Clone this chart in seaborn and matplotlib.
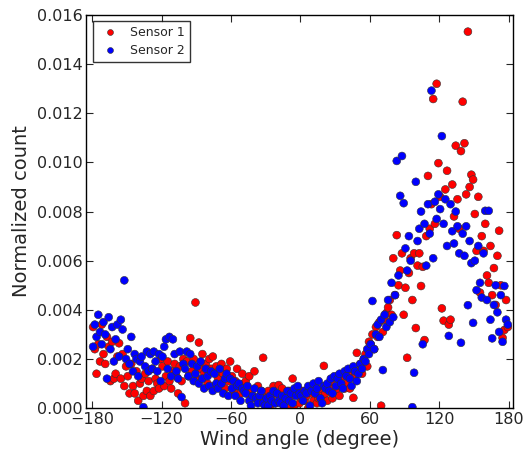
import numpy as np
import pandas as pd
import matplotlib
matplotlib.use("Agg")
import matplotlib.pyplot as plt
import seaborn as sns

# Wind angle bin centres, 1.5 degree wide
angles = np.arange(-179.25, 180, 1.5)

# Normalized counts, in units of 1e-3 (one line = 30 degrees)
sensor1_milli = [
    3.3, 2.4, 1.4, 2.6, 1.9, 3.4, 2.2, 1.8, 2.9, 2.5, 1.1, 2.7, 1.2, 1.4, 2.1, 2.64, 1.2, 2.2, 0.9, 1.7,
    1.3, 0.6, 1.8, 0.9, 0.6, 1.5, 0.3, 1.0, 1.2, 0.5, 1.4, 0.7, 1.1, 0.5, 1.6, 0.7, 1.2, 1.0, 0.8, 2.0,
    1.7, 0.9, 1.3, 1.9, 1.1, 0.8, 1.5, 1.8, 1.3, 0.6, 1.7, 1.1, 2.0, 0.2, 1.9, 1.3, 2.85, 1.5, 2.0, 4.3,
    1.2, 2.67, 1.6, 2.2, 1.4, 1.8, 1.0, 2.0, 1.6, 2.1, 0.9, 1.7, 1.2, 1.5, 1.8, 1.4, 0.8, 1.6, 1.1, 1.9,
    1.3, 0.7, 1.1, 1.6, 0.9, 0.6, 1.4, 1.0, 1.1, 0.6, 1.3, 0.7, 0.5, 1.5, 0.4, 0.9, 0.4, 0.7, 2.05, 0.5,
    0.4, 0.7, 0.1, 0.5, 0.9, 0.2, 0.6, 0.94, 0.3, 0.8, 0.1, 0.4, 0.0, 0.7, 0.5, 1.2, 0.1, 0.6, 0.8, 0.2,
    0.4, 0.7, 0.3, 0.5, 0.0, 0.8, 0.6, 0.3, 0.9, 0.2, 0.4, 0.7, 0.5, 1.72, 0.6, 0.3, 0.9, 1.1, 0.4, 0.8,
    0.7, 1.2, 0.5, 0.9, 1.3, 0.8, 1.0, 1.4, 0.8, 1.6, 0.42, 1.3, 2.25, 1.5, 1.8, 1.4, 2.0, 2.2, 1.7, 2.7,
    2.6, 3.0, 2.4, 3.3, 2.9, 3.5, 0.1, 3.1, 3.6, 3.87, 4.1, 4.4, 3.8, 6.1, 4.6, 7.04, 5.0, 5.6, 6.3, 3.8,
    4.9, 2.05, 5.5, 6.1, 4.4, 6.3, 3.26, 5.8, 6.3, 4.97, 5.75, 2.77, 7.0, 9.45, 7.3, 8.3, 12.58, 7.5, 13.2, 9.97,
    8.6, 4.06, 3.56, 8.9, 9.66, 3.4, 3.6, 9.1, 7.8, 10.68, 8.5, 7.3, 10.46, 12.47, 10.78, 8.7, 15.32, 9.0, 9.5, 9.3,
    7.9, 6.4, 8.6, 4.7, 7.0, 6.4, 7.5, 5.4, 5.1, 6.6, 4.6, 5.7, 4.2, 6.2, 7.22, 5.0, 2.86, 3.18, 4.4, 3.3,
]

sensor2_milli = [
    2.5, 3.4, 2.9, 3.8, 3.1, 2.6, 3.5, 3.0, 1.2, 3.7, 2.4, 3.3, 1.9, 2.8, 3.4, 2.1, 3.6, 3.2, 5.2, 2.0,
    2.4, 1.8, 2.9, 1.5, 2.2, 2.0, 1.3, 1.9, 2.1, 0.04, 1.7, 2.3, 1.5, 2.2, 1.6, 2.3, 1.9, 1.5, 2.2, 1.1,
    2.1, 2.5, 2.8, 1.6, 2.9, 1.3, 2.8, 2.2, 1.5, 1.2, 2.3, 0.45, 1.8, 1.6, 2.3, 1.3, 2.2, 1.8, 1.1, 1.4,
    1.7, 1.0, 1.9, 1.2, 0.8, 1.6, 1.3, 0.9, 1.5, 0.7, 1.4, 1.0, 0.8, 1.6, 1.0, 0.6, 1.2, 1.4, 0.5, 1.2,
    0.8, 1.1, 0.5, 0.9, 1.0, 0.3, 0.8, 0.7, 0.6, 0.9, 0.3, 0.1, 0.5, 0.8, 0.4, 0.2, 0.5, 0.7, 0.2, 0.1,
    0.4, 0.1, 0.5, 0.3, 0.7, 0.2, 0.6, 0.3, 0.2, 0.5, 0.1, 0.4, 0.7, 0.3, 0.6, 0.2, 0.8, 0.5, 0.9, 0.6,
    0.5, 0.3, 0.7, 0.6, 0.9, 0.1, 0.7, 1.0, 0.6, 0.8, 1.1, 0.4, 0.2, 0.9, 0.8, 1.0, 0.7, 1.2, 0.6, 1.3,
    0.9, 1.2, 1.4, 1.0, 0.8, 1.5, 1.3, 1.6, 1.2, 0.9, 1.7, 1.5, 1.1, 1.4, 1.8, 1.6, 2.0, 1.9, 2.4, 2.2,
    2.6, 4.36, 2.4, 3.0, 3.4, 2.9, 3.6, 1.55, 3.8, 3.3, 4.4, 3.5, 5.1, 3.7, 4.6, 10.06, 5.4, 8.64, 10.26, 8.34,
    6.5, 5.6, 7.0, 6.0, 0.04, 1.44, 9.21, 6.8, 7.3, 8.0, 2.6, 7.5, 5.8, 8.3, 7.1, 12.92, 6.1, 8.4, 7.7, 8.7,
    8.1, 11.07, 7.5, 8.5, 6.6, 2.94, 8.3, 7.2, 6.7, 8.0, 7.4, 6.3, 2.66, 7.1, 6.2, 7.4, 4.19, 6.8, 5.9, 3.47,
    6.0, 4.8, 6.6, 5.1, 4.5, 6.3, 8.03, 4.4, 8.03, 3.6, 2.84, 4.2, 5.0, 3.9, 3.1, 4.6, 2.7, 4.97, 3.6, 3.4,
]

x_ticks = [-180, -120, -60, 0, 60, 120, 180]
y_ticks = [0.000, 0.002, 0.004, 0.006, 0.008, 0.010, 0.012, 0.014, 0.016]

df = pd.concat([
    pd.DataFrame({"angle": angles, "count": np.array(sensor1_milli) / 1000, "sensor": "Sensor 1"}),
    pd.DataFrame({"angle": angles, "count": np.array(sensor2_milli) / 1000, "sensor": "Sensor 2"}),
])

sns.set_style("ticks")
plt.rcParams["font.family"] = ["DejaVu Sans"]

fig = plt.figure(figsize=(5.27, 4.53), dpi=100)
ax = fig.add_axes([0.164, 0.099, 0.810, 0.868])

sns.scatterplot(
    data=df, x="angle", y="count", hue="sensor",
    palette={"Sensor 1": "#ff0000", "Sensor 2": "#0000ff"},
    s=32, edgecolor="#333333", linewidth=0.4, ax=ax,
)

ax.set_xlim(-185, 184)
ax.set_ylim(0, 0.016)
ax.set_xticks(x_ticks)
ax.set_xticklabels(["\u2212180", "\u2212120", "\u221260", "0", "60", "120", "180"])
ax.set_yticks(y_ticks)
ax.set_yticklabels([f"{v:.3f}" for v in y_ticks])
ax.tick_params(direction="in", top=True, right=True, length=5, labelsize=11.5, pad=3)
for sp in ax.spines.values():
    sp.set_linewidth(1.0)
    sp.set_color("black")

ax.set_xlabel("Wind angle (degree)", fontsize=14, labelpad=2)
ax.set_ylabel("Normalized count", fontsize=14, labelpad=4)

leg = ax.legend(loc="upper left", fontsize=9, frameon=True, fancybox=False,
                handletextpad=0.6, borderpad=0.4, labelspacing=0.4, markerscale=0.75)
leg.get_frame().set_edgecolor("black")
leg.get_frame().set_linewidth(1.0)

fig.savefig("out.png", dpi=100)
